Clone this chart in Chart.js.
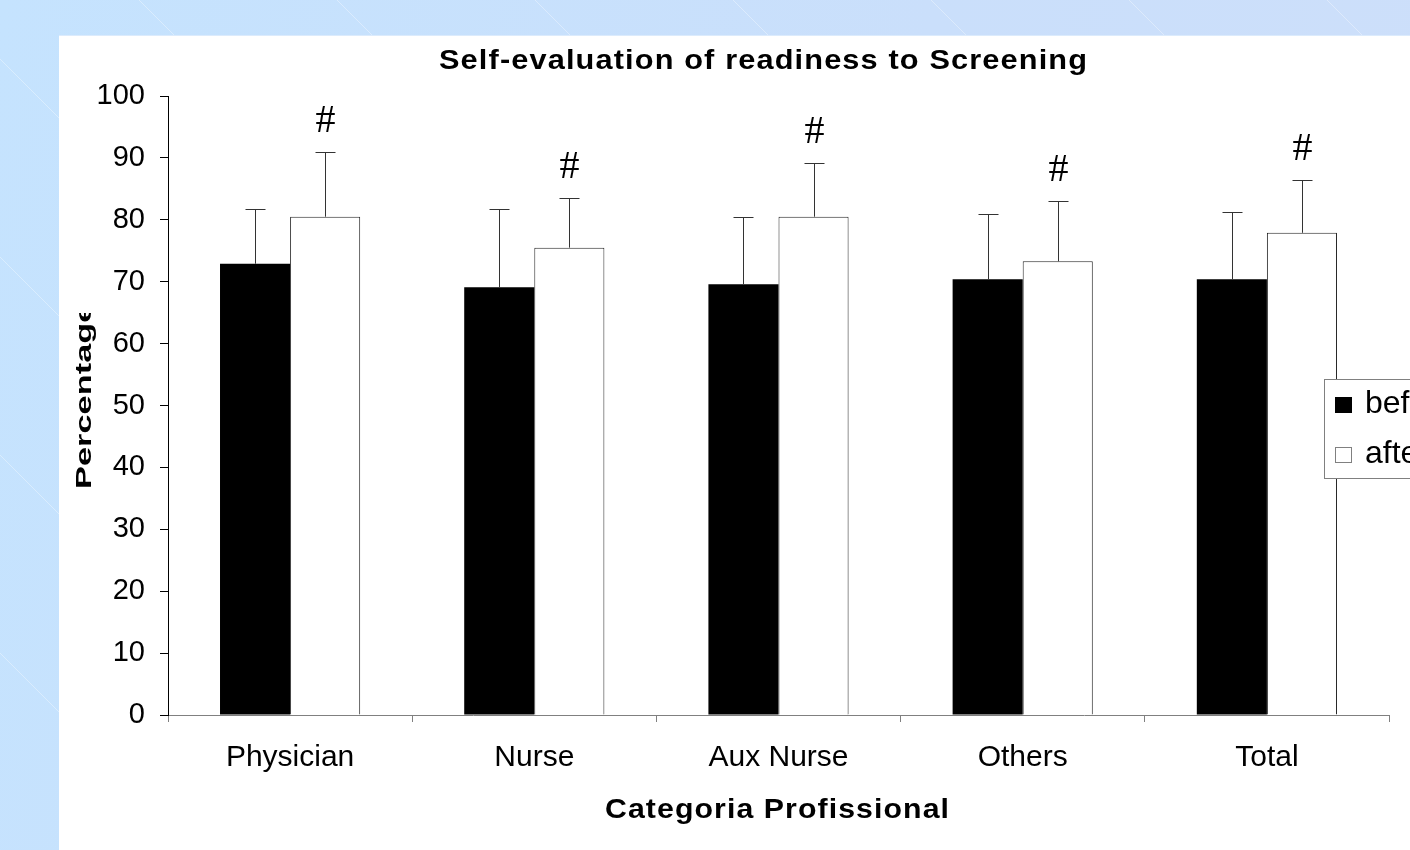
<!DOCTYPE html>
<html>
<head>
<meta charset="utf-8">
<title>Self-evaluation of readiness to Screening</title>
<script src="https://cdn.jsdelivr.net/npm/chart.js@4.4.1/dist/chart.umd.min.js"></script>
<style>
  html, body {
    margin: 0;
    width: 1410px;
    height: 850px;
    overflow: hidden;
  }
  body {
    position: relative;
    background:
      repeating-linear-gradient(45deg, rgba(255,255,255,0) 0px, rgba(255,255,255,0) 139px, rgba(255,255,255,0.35) 139px, rgba(255,255,255,0.35) 140px),
      linear-gradient(100deg, #c5e3fe 0%, #cadffb 60%, #cddffa 100%);
  }
  #panel {
    position: absolute;
    left: 59px;
    top: 35px;
    width: 1351px;
    height: 815px;
    background: #ffffff;
    border-top: 1px solid #dcebfc;
    box-sizing: border-box;
    overflow: hidden;
  }
  #chart {
    position: absolute;
    left: 0;
    top: -1px;
  }
</style>
</head>
<body>
<div id="panel">
  <canvas id="chart" width="1500" height="815"></canvas>
</div>
<script>
// Categories and values (percent), SD used for the upward error bars
const categories = ['Physician', 'Nurse', 'Aux Nurse', 'Others', 'Total'];
const beforeValues = [72.9, 69.1, 69.6, 70.4, 70.4];
const afterValues = [80.5, 75.5, 80.5, 73.3, 77.9];
const beforeSD = [8.8, 12.6, 10.9, 10.5, 10.9];
const afterSD = [10.5, 8.0, 8.6, 9.7, 8.6];
// '#' = significant change after training
const significant = [true, true, true, true, true];
const seriesNames = ['before', 'after'];

const sans = "'Liberation Sans', Arial, sans-serif";

// draws text centred on (cx, cy) with a little tracking, stretched sideways to a given width
function wideText(ctx, text, cx, cy, font, width) {
    ctx.save();
    ctx.font = font;
    ctx.letterSpacing = '1px';
    const w = ctx.measureText(text).width - 1;
    ctx.translate(cx - width / 2, cy);
    ctx.scale(width / w, 1);
    ctx.textAlign = 'left';
    ctx.textBaseline = 'middle';
    ctx.fillStyle = '#000';
    ctx.fillText(text, 0, 0);
    ctx.restore();
}

// Error bars (upper half only) plus the '#' markers
const errorBars = {
    id: 'errorBars',
    afterDatasetsDraw(chart) {
        const ctx = chart.ctx;
        const yScale = chart.scales.y;
        const sds = [beforeSD, afterSD];
        ctx.save();
        ctx.strokeStyle = '#333';
        ctx.lineWidth = 1;
        chart.data.datasets.forEach((ds, i) => {
            const meta = chart.getDatasetMeta(i);
            meta.data.forEach((bar, j) => {
                const x = Math.round(bar.x) + 0.5;
                const top = Math.round(yScale.getPixelForValue(ds.data[j] + sds[i][j])) + 0.5;
                ctx.beginPath();
                ctx.moveTo(x, bar.y);
                ctx.lineTo(x, top);
                ctx.moveTo(x - 10, top);
                ctx.lineTo(x + 10, top);
                ctx.stroke();
                if (i === 1 && significant[j]) {
                    ctx.fillStyle = '#000';
                    ctx.font = "40px 'Liberation Serif', 'Times New Roman', serif";
                    ctx.textAlign = 'center';
                    ctx.textBaseline = 'middle';
                    ctx.fillText('#', x, top - 31);
                }
            });
        });
        ctx.restore();
    }
};

// Titles and the boxed legend
const chartText = {
    id: 'chartText',
    afterDraw(chart) {
        const ctx = chart.ctx;
        wideText(ctx, 'Self-evaluation of readiness to Screening', 704, 27, 'bold 27px ' + sans, 648);
        wideText(ctx, 'Categoria Profissional', 718, 775, 'bold 28px ' + sans, 344);

        // y title, stretched along its length and cut at the top
        ctx.save();
        ctx.beginPath();
        ctx.rect(0, 278, 110, 500);
        ctx.clip();
        ctx.translate(32, 454);
        ctx.rotate(-Math.PI / 2);
        ctx.scale(1.72, 1.1);
        ctx.font = 'bold 20px ' + sans;
        ctx.fillStyle = '#000';
        ctx.textAlign = 'left';
        ctx.textBaseline = 'alphabetic';
        ctx.fillText('Percentage', 0, 0);
        ctx.restore();

        // legend
        ctx.save();
        ctx.fillStyle = '#fff';
        ctx.fillRect(1265, 344, 220, 99);
        ctx.strokeStyle = '#808080';
        ctx.lineWidth = 1;
        ctx.strokeRect(1265.5, 344.5, 220, 99);
        const fills = chart.data.datasets.map(d => d.backgroundColor);
        ctx.font = '32px ' + sans;
        ctx.textAlign = 'left';
        ctx.textBaseline = 'alphabetic';
        seriesNames.forEach((name, i) => {
            const y = 362 + i * 50;
            ctx.fillStyle = fills[i];
            ctx.fillRect(1276, y, 17, 16);
            if (i === 1) {
                ctx.strokeStyle = '#808080';
                ctx.strokeRect(1276.5, y + 0.5, 16, 15);
            }
            ctx.fillStyle = '#000';
            ctx.fillText(name, 1306, y + 16);
        });
        ctx.restore();
    }
};

const ctx = document.getElementById('chart').getContext('2d');
const readinessChart = new Chart(ctx, {
    type: 'bar',
    data: {
        labels: categories,
        datasets: [{
            label: seriesNames[0],
            data: beforeValues,
            backgroundColor: '#000000',
            borderColor: '#000000',
            borderWidth: 0
        }, {
            label: seriesNames[1],
            data: afterValues,
            backgroundColor: '#ffffff',
            borderColor: '#262626',
            borderWidth: 1,
            borderSkipped: 'bottom'
        }]
    },
    options: {
        responsive: false,
        animation: false,
        events: [],
        layout: {
            padding: { left: 0, top: 61, right: 170, bottom: 0 }
        },
        datasets: {
            bar: { categoryPercentage: 0.574, barPercentage: 1.0 }
        },
        scales: {
            x: {
                grid: {
                    display: true,
                    drawOnChartArea: false,
                    offset: true,
                    tickLength: 7,
                    color: '#808080'
                },
                border: { color: '#808080', width: 1 },
                ticks: {
                    color: '#000',
                    padding: 18,
                    font: { family: sans, size: 30 }
                },
                afterFit(scale) { scale.height = 135; }
            },
            y: {
                min: 0,
                max: 100,
                ticks: {
                    stepSize: 10,
                    color: '#000',
                    padding: 15,
                    font: { family: sans, size: 29 }
                },
                grid: {
                    drawOnChartArea: false,
                    tickLength: 8,
                    color: '#000'
                },
                border: { color: '#000', width: 1 },
                afterFit(scale) { scale.width = 109; }
            }
        },
        plugins: {
            legend: { display: false },
            title: { display: false },
            tooltip: { enabled: false }
        }
    },
    plugins: [errorBars, chartText]
});
</script>
</body>
</html>
